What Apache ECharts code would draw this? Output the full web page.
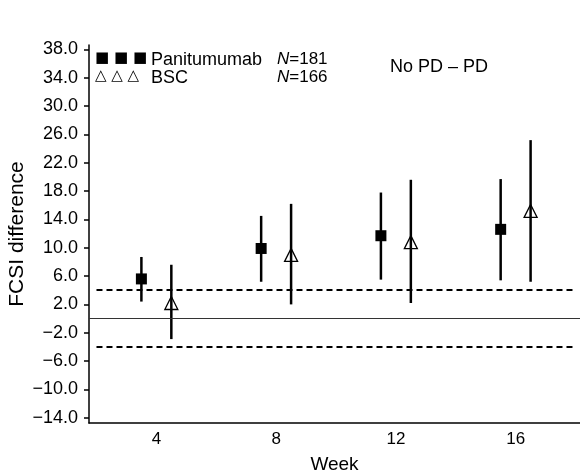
<!DOCTYPE html>
<html>
<head>
<meta charset="utf-8">
<script src="https://cdn.jsdelivr.net/npm/echarts@6/dist/echarts.min.js"></script>
<style>
  html, body { margin: 0; padding: 0; background: #fff; }
  #chart { width: 580px; height: 476px; }
</style>
</head>
<body>
<div id="chart"></div>
<script>
// data
const weeks = [4, 8, 12, 16]
const panMean = [5.6, 9.9, 11.7, 12.6]
const panLow = [2.4, 5.2, 5.5, 5.4]
const panHigh = [8.7, 14.5, 17.8, 19.7]
const bscMean = [2.2, 9.0, 10.8, 15.2]
const bscLow = [-2.9, 2.0, 2.2, 5.2]
const bscHigh = [7.6, 16.2, 19.6, 25.2]
const shift = 0.5 // groups drawn half a week either side
const refLines = [0]
const dashLines = [4, -4]
const yMin = -14, yMax = 38, yStep = 4

const font = 'Liberation Sans, Arial, Helvetica, sans-serif'

const panPts = weeks.map((w, i) => [w - shift, panMean[i]])
const bscPts = weeks.map((w, i) => [w + shift, bscMean[i]])
const bars = weeks.map((w, i) => [w - shift, panLow[i], panHigh[i]])
  .concat(weeks.map((w, i) => [w + shift, bscLow[i], bscHigh[i]]))

const chart = echarts.init(document.getElementById('chart'))

chart.setOption({
  animation: false,
  textStyle: { fontFamily: font, color: '#000' },
  grid: [
    // data grid
    { left: 89, right: 0, top: 49.5, bottom: 58.3, outerBoundsMode: 'none', containLabel: false },
    // outer frame (axis lines)
    { left: 89, right: 0, top: 45, bottom: 53, outerBoundsMode: 'none', containLabel: false }
  ],
  xAxis: [
    { type: 'value', gridIndex: 0, min: 1.75, max: 18.15, show: false },
    {
      type: 'value', gridIndex: 1, min: 1.75, max: 18.15, interval: 0.25,
      axisLine: { onZero: false, lineStyle: { color: '#000', width: 1.5 } },
      axisTick: { show: false },
      splitLine: { show: false },
      axisLabel: {
        color: '#000', fontSize: 17, margin: 8,
        formatter: (v) => weeks.includes(v) ? String(v) : ''
      },
      name: 'Week', nameLocation: 'middle', nameGap: 32, nameMoveOverlap: false,
      nameTextStyle: { fontSize: 19, color: '#000' }
    }
  ],
  yAxis: [
    {
      type: 'value', gridIndex: 0, min: yMin, max: yMax, interval: yStep,
      axisLine: { show: false, onZero: false },
      axisTick: { show: true, length: 5, lineStyle: { color: '#000', width: 1.5 } },
      splitLine: { show: false },
      axisLabel: {
        color: '#000', fontSize: 18, margin: 11,
        formatter: (v) => v < 0 ? '\u2212' + Math.abs(v).toFixed(1) : v.toFixed(1)
      }
    },
    {
      type: 'value', gridIndex: 1, min: -14.8, max: 38.64,
      axisLine: { show: true, onZero: false, lineStyle: { color: '#000', width: 1.5 } },
      axisTick: { show: false },
      axisLabel: { show: false },
      splitLine: { show: false }
    }
  ],
  graphic: [
    {
      // y axis title
      type: 'text', x: 17, y: 234, rotation: Math.PI / 2,
      style: {
        text: 'FCSI difference', fontFamily: font, fontSize: 21, fill: '#000',
        align: 'center', verticalAlign: 'middle'
      }
    },
    {
      type: 'text', left: 95, top: 51,
      style: { text: '\u25A0 \u25A0 \u25A0', fontFamily: 'DejaVu Sans', fontSize: 15, fill: '#000' }
    },
    {
      type: 'text', left: 95, top: 69,
      style: { text: '\u25B3 \u25B3 \u25B3', fontFamily: 'DejaVu Sans', fontSize: 15, fill: '#000' }
    },
    {
      type: 'text', left: 151, top: 51,
      style: { text: 'Panitumumab', fontFamily: font, fontSize: 18, fill: '#000' }
    },
    {
      type: 'text', left: 151, top: 69,
      style: { text: 'BSC', fontFamily: font, fontSize: 18, fill: '#000' }
    },
    {
      type: 'text', left: 277, top: 51,
      style: {
        text: '{i|N}=181', fontFamily: font, fontSize: 17, fill: '#000',
        rich: { i: { fontStyle: 'italic', fontFamily: font, fontSize: 17 } }
      }
    },
    {
      type: 'text', left: 277, top: 69,
      style: {
        text: '{i|N}=166', fontFamily: font, fontSize: 17, fill: '#000',
        rich: { i: { fontStyle: 'italic', fontFamily: font, fontSize: 17 } }
      }
    },
    {
      type: 'text', left: 390, top: 58,
      style: { text: 'No PD \u2013 PD', fontFamily: font, fontSize: 18, fill: '#000' }
    }
  ],
  series: [
    {
      // reference lines
      type: 'line', xAxisIndex: 0, yAxisIndex: 0, data: [],
      markLine: {
        silent: true, symbol: 'none', label: { show: false },
        data: refLines.map(v => ({
          yAxis: v, lineStyle: { color: '#333', width: 1, type: 'solid' }
        })).concat(dashLines.map(v => [
          { coord: [2, v], lineStyle: { color: '#000', width: 2, type: [6, 4] } },
          { coord: [18, v] }
        ]))
      }
    },
    {
      type: 'custom', xAxisIndex: 0, yAxisIndex: 0, data: bars,
      renderItem: (params, api) => {
        const x = api.value(0)
        const lo = api.coord([x, api.value(1)])
        const hi = api.coord([x, api.value(2)])
        return {
          type: 'line',
          shape: { x1: lo[0], y1: lo[1], x2: hi[0], y2: hi[1] },
          style: { stroke: '#000', lineWidth: 2.5 }
        }
      },
      z: 3
    },
    {
      name: 'Panitumumab', type: 'scatter', xAxisIndex: 0, yAxisIndex: 0,
      data: panPts, symbol: 'rect', symbolSize: 11,
      itemStyle: { color: '#000', opacity: 1 }, z: 4
    },
    {
      name: 'BSC', type: 'scatter', xAxisIndex: 0, yAxisIndex: 0,
      data: bscPts, symbol: 'triangle', symbolSize: [13, 13],
      itemStyle: { color: 'rgba(0,0,0,0)', borderColor: '#000', borderWidth: 1.3, opacity: 1 }, z: 4
    }
  ]
})
</script>
</body>
</html>
